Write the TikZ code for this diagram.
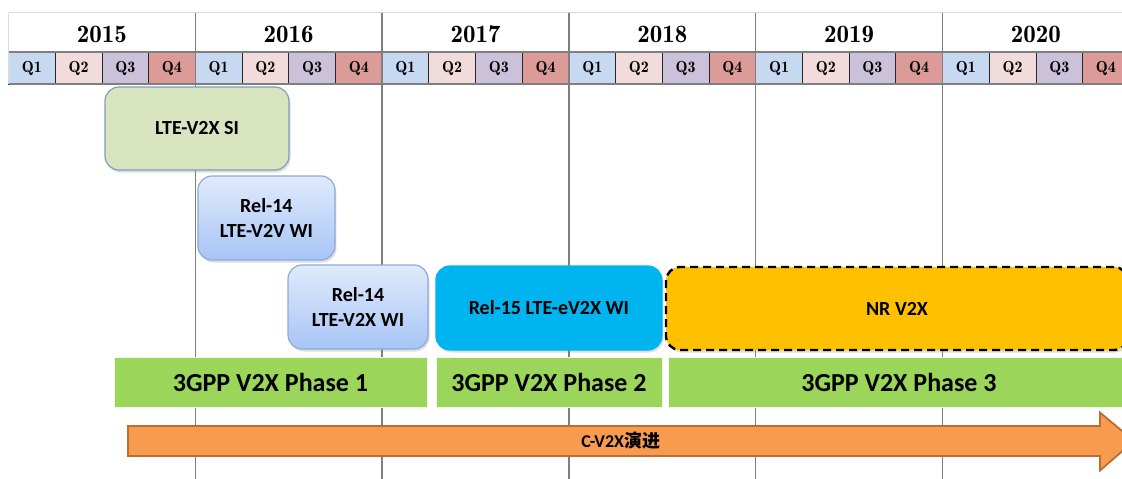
\documentclass[tikz,border=0pt]{standalone}
\usepackage{fontspec}
\setsansfont{Carlito}
\newfontfamily\cjk{Noto Sans CJK SC}
\newfontfamily\lmdemi{lmromandemi10-regular.otf}
\usetikzlibrary{shadows}
\definecolor{qc1}{HTML}{C6D9F1}
\definecolor{qc2}{HTML}{F2DCDB}
\definecolor{qc3}{HTML}{CCC1DA}
\definecolor{qc4}{HTML}{DC9B99}
\definecolor{toplinec}{HTML}{D3DAEA}
\definecolor{ylinec}{HTML}{7F7F7F}
\definecolor{sigreen}{HTML}{D7E4BD}
\definecolor{siborder}{HTML}{7F9CC4}
\definecolor{witop}{HTML}{E0EAFB}
\definecolor{wibot}{HTML}{A7C5F6}
\definecolor{wiborder}{HTML}{8CAADC}
\definecolor{relblue}{HTML}{00B4F0}
\definecolor{nryellow}{HTML}{FFC000}
\definecolor{phgreen}{HTML}{9BD65B}
\definecolor{arrowfill}{HTML}{F79C4E}
\definecolor{arrowdraw}{HTML}{BE6D2F}
\tikzset{
  qcell/.style={draw=black!85, line width=0.7pt, minimum width=46.7pt, minimum height=32pt, inner sep=0pt, font=\lmdemi\fontsize{16}{18}\selectfont},
  yearlbl/.style={inner sep=0pt, font=\lmdemi\fontsize{25}{30}\selectfont},
  yline/.style={draw=ylinec, line width=1.5pt},
  rbox/.style={rounded corners=14pt, line width=1.2pt, inner sep=0pt, align=center,
    font=\sffamily\bfseries\fontsize{20}{25}\selectfont,
    drop shadow={opacity=0.25, shadow xshift=1.5pt, shadow yshift=-2.5pt}},
  phasebar/.style={fill=phgreen, draw=white!85!phgreen, line width=1pt, inner sep=0pt, minimum height=50pt,
    font=\sffamily\bfseries\fontsize{26}{30}\selectfont},
  arrowtxt/.style={inner sep=0pt, font=\sffamily\bfseries\fontsize{18}{20}\selectfont}
}
\begin{document}
\begin{tikzpicture}[x=1pt,y=-1pt]
\fill[white] (0,0) rectangle (1122,479);
\useasboundingbox (0,0) rectangle (1122,479);
\clip (0,0) rectangle (1122,479);
% quarter cells
\foreach \i in {0,...,23} {
  \pgfmathtruncatemacro\q{mod(\i,4)+1}
  \node[qcell, fill=qc\q] (q\i) at (8.5+46.7*\i+23.35, 68) {Q\q};
}
% year labels
\foreach \yr [count=\i from 0] in {2015,2016,2017,2018,2019,2020} {
  \node[yearlbl] (y\yr) at (8.5+186.8*\i+93.4, 34.5) {\yr};
}
% table lines
\draw[toplinec, line width=1.5pt] (8.5,12.5) -- (1122,12.5);
\draw[toplinec, line width=1.5pt] (8.5,12.5) -- (8.5,84);
\draw[ylinec, line width=2.2pt] (8.5,52) -- (1122,52);
\draw[ylinec, line width=2.2pt] (8.5,84) -- (1122,84);
\foreach \i in {1,...,5} {
  \draw[yline] (8.5+186.8*\i, 12.5) -- (8.5+186.8*\i, 479);
}
% boxes
\node[rbox, fill=sigreen, draw=siborder, minimum width=184pt, minimum height=83pt] (si) at (197,128.5) {LTE-V2X SI};
\node[rbox, top color=witop, bottom color=wibot, draw=wiborder, minimum width=137pt, minimum height=84pt] (v2v) at (266.4,218) {Rel-14\\LTE-V2V WI};
\node[rbox, top color=witop, bottom color=wibot, draw=wiborder, minimum width=140pt, minimum height=84pt] (v2x) at (358,307) {Rel-14\\LTE-V2X WI};
\node[rbox, fill=relblue, draw=relblue, minimum width=226pt, minimum height=84pt] (ev2x) at (548.9,308) {Rel-15 LTE-eV2X WI};
\node[rbox, fill=nryellow, draw=black, dash pattern=on 8pt off 5pt, line width=2.4pt, minimum width=462pt, minimum height=83pt] (nr) at (897,308.5) {NR V2X};
% phase bars
\node[phasebar, minimum width=313pt] (ph1) at (270.5,382) {3GPP V2X Phase 1};
\node[phasebar, minimum width=226pt] (ph2) at (549,382) {3GPP V2X Phase 2};
\node[phasebar, minimum width=462pt] (ph3) at (899,382) {3GPP V2X Phase 3};
% arrow
\draw[fill=arrowfill, draw=arrowdraw, line width=1.8pt, line join=miter]
  (128,426) -- (1100,426) -- (1100,412.5) -- (1134,441) -- (1100,470.5) -- (1100,456) -- (128,456) -- cycle;
\node[arrowtxt] (cv2x) at (620.7,441) {C-V2X{\cjk 演进}};
\end{tikzpicture}
\end{document}
